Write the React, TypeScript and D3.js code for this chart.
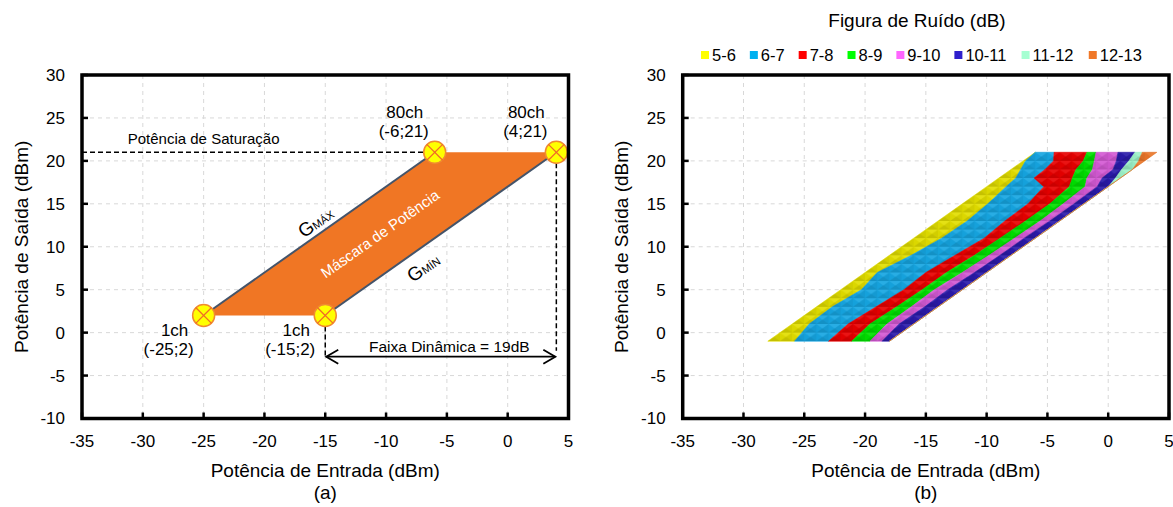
import React from 'react';
import * as d3 from 'd3';

// ---------- shared axes ----------
const xTicks = [-35, -30, -25, -20, -15, -10, -5, 0, 5];
const yTicks = [-10, -5, 0, 5, 10, 15, 20, 25, 30];
const xTitle = 'Potência de Entrada (dBm)';
const yTitle = 'Potência de Saída (dBm)';
const panelLetters = ['(a)', '(b)'];

// ---------- panel (a): power mask ----------
const maskInput = [-25, -6, 4, -15];
const maskOutput = [2, 21, 21, 2];
const pointNames = ['1ch', '80ch', '80ch', '1ch'];
const pointCoords = ['(-25;2)', '(-6;21)', '(4;21)', '(-15;2)'];
const saturationLevel = 21;
const saturationLabel = 'Potência de Saturação';
const dynamicFrom = -15;
const dynamicTo = 4;
const dynamicLevel = -2.8;
const dynamicLabel = 'Faixa Dinâmica = 19dB';
const maskLabel = 'Máscara de Potência';

// ---------- panel (b): noise figure map ----------
const outputLevels = [-1, 1, 3, 5, 7, 9, 11, 13, 15, 17, 18, 19, 20, 21];
const edgeLeft = [-28, -26, -24, -22, -20, -18, -16, -14, -12, -10, -9, -8, -7, -6];
const bound5_6 = [-25.8, -24.6, -22.7, -20.3, -19.0, -16.2, -13.7, -11.6, -9.9, -8.4, -7.6, -7.2, -6.8, -6.0];
const bound6_7 = [-23.0, -21.4, -19.1, -16.8, -15.0, -12.6, -10.2, -8.5, -6.6, -5.3, -6.1, -5.2, -4.5, -4.45];
const bound7_8 = [-21.1, -19.6, -17.4, -15.3, -13.3, -11.0, -8.9, -6.8, -4.8, -3.2, -2.95, -2.65, -2.05, -1.75];
const bound8_9 = [-19.6, -18.2, -16.2, -14.3, -12.0, -9.8, -7.7, -5.6, -3.7, -1.9, -1.75, -1.3, -1.14, -1.0];
const bound9_10 = [-18.6, -17.2, -15.1, -13.2, -11.0, -8.9, -6.9, -4.8, -2.8, -0.9, -0.5, 0.4, 0.67, 0.8];
const bound10_11 = [-18, -16, -14, -12, -10, -8, -6, -4, -2, 0, 0.6, 1.1, 1.7, 2.2];
const bound11_12 = [-18, -16, -14, -12, -10, -8, -6, -4, -2, 0, 1.0, 2.0, 2.5, 2.8];
const edgeRight = [-18, -16, -14, -12, -10, -8, -6, -4, -2, 0, 1, 2, 3, 4];
const nfClasses = ['5-6', '6-7', '7-8', '8-9', '9-10', '10-11', '11-12', '12-13'];
const nfLegendColors = ['#FFFF00', '#00B0F0', '#FF0000', '#00FF00', '#FF66FF', '#2E1FCC', '#A6FFD2', '#F07828'];
const nfFillColors = ['#E2DE00', '#16A6E2', '#E80000', '#00E000', '#D45AD4', '#2A1AAA', '#9CF2C8', '#EA7628'];
const legendTitle = 'Figura de Ruído (dB)';

const FONT = 'Liberation Sans, Arial, Helvetica, sans-serif';
const W = 1173;
const H = 507;
const yScale = d3.scaleLinear().domain([-10, 30]).range([418.5, 75]);
const xScaleA = d3.scaleLinear().domain([-35, 5]).range([82, 568.5]);
const xScaleB = d3.scaleLinear().domain([-35, 5]).range([682.7, 1169]);

function Frame({ x, letter, children }: { x: d3.ScaleLinear<number, number>; letter: string; children?: React.ReactNode }) {
  const [x0, x1] = x.range();
  const [y0, y1] = [yScale(30), yScale(-10)];
  const cx = (x0 + x1) / 2;
  return (
    <g>
      {xTicks.slice(1, -1).map((t) => (
        <line key={'gx' + t} x1={x(t)} x2={x(t)} y1={y0} y2={y1} stroke="#D8D8D8" strokeWidth={1} strokeDasharray="4 4" />
      ))}
      {yTicks.slice(1, -1).map((t) => (
        <line key={'gy' + t} x1={x0} x2={x1} y1={yScale(t)} y2={yScale(t)} stroke="#D8D8D8" strokeWidth={1} strokeDasharray="4 4" />
      ))}
      {children}
      <rect x={x0} y={y0} width={x1 - x0} height={y1 - y0} fill="none" stroke="#000" strokeWidth={3.5} />
      {xTicks.map((t) => (
        <line key={'tx' + t} x1={x(t)} x2={x(t)} y1={y1} y2={y1 - 6} stroke="#000" strokeWidth={2.5} />
      ))}
      {yTicks.map((t) => (
        <line key={'ty' + t} x1={x0} x2={x0 + 6} y1={yScale(t)} y2={yScale(t)} stroke="#000" strokeWidth={2.5} />
      ))}
      {xTicks.map((t) => (
        <text key={'lx' + t} x={x(t)} y={447} textAnchor="middle" fontSize={17} fontFamily={FONT} fill="#000">{t}</text>
      ))}
      {yTicks.map((t) => (
        <text key={'ly' + t} x={x0 - 17} y={yScale(t)} dy="0.35em" textAnchor="end" fontSize={17} fontFamily={FONT} fill="#000">{t}</text>
      ))}
      <text x={cx} y={477} textAnchor="middle" fontSize={19} fontFamily={FONT} fill="#000">{xTitle}</text>
      <text x={cx} y={499} textAnchor="middle" fontSize={19} fontFamily={FONT} fill="#000">{letter}</text>
      <text transform={`translate(${x0 - 61},${(y0 + y1) / 2}) rotate(-90)`} dy="0.35em" textAnchor="middle" fontSize={19} fontFamily={FONT} fill="#000">{yTitle}</text>
    </g>
  );
}

function Marker({ cx, cy }: { cx: number; cy: number }) {
  const r = 11;
  const k = r * 0.72;
  return (
    <g>
      <circle cx={cx} cy={cy} r={r} fill="#FFFF00" stroke="#F08A30" strokeWidth={1.5} />
      <line x1={cx - k} y1={cy - k} x2={cx + k} y2={cy + k} stroke="#F06A28" strokeWidth={1.3} />
      <line x1={cx - k} y1={cy + k} x2={cx + k} y2={cy - k} stroke="#F06A28" strokeWidth={1.3} />
    </g>
  );
}

function PanelA() {
  const x = xScaleA;
  const pts = maskInput.map((v, i) => [x(v), yScale(maskOutput[i])] as [number, number]);
  const poly = d3.line()(pts.concat([pts[0]])) as string;
  const angle = (-Math.atan2(yScale(0) - yScale(1), x(1) - x(0)) * 180) / Math.PI;
  const centerX = x(d3.mean(maskInput) as number);
  const centerY = yScale(d3.mean(maskOutput) as number);
  const gmaxP = [x(-15.5), yScale(11.5)];
  const gminP = [x(-8.5), yScale(8.5)];
  const yArrow = yScale(dynamicLevel);
  const xa0 = x(dynamicFrom);
  const xa1 = x(dynamicTo);
  return (
    <Frame x={x} letter={panelLetters[0]}>
      <path d={poly} fill="#F07624" stroke="none" />
      <line x1={pts[0][0]} y1={pts[0][1]} x2={pts[1][0]} y2={pts[1][1]} stroke="#44546A" strokeWidth={2} />
      <line x1={pts[3][0]} y1={pts[3][1]} x2={pts[2][0]} y2={pts[2][1]} stroke="#44546A" strokeWidth={2} />
      <line x1={x(-35)} x2={x(maskInput[1])} y1={yScale(saturationLevel)} y2={yScale(saturationLevel)} stroke="#000" strokeWidth={1.5} strokeDasharray="5 3" />
      <text x={x(-25)} y={yScale(saturationLevel) - 8} textAnchor="middle" fontSize={15} fontFamily={FONT} fill="#000">{saturationLabel}</text>
      <line x1={xa0} x2={xa0} y1={yScale(2) + 11} y2={yArrow} stroke="#000" strokeWidth={1.5} strokeDasharray="5 3" />
      <line x1={xa1} x2={xa1} y1={yScale(21) + 11} y2={yArrow - 6} stroke="#000" strokeWidth={1.5} strokeDasharray="5 3" />
      <line x1={xa0 + 1} x2={xa1 - 1} y1={yArrow} y2={yArrow} stroke="#000" strokeWidth={1.8} />
      <path d={`M${xa0 + 13},${yArrow - 7} L${xa0 + 1},${yArrow} L${xa0 + 13},${yArrow + 7}`} fill="none" stroke="#000" strokeWidth={1.8} />
      <path d={`M${xa1 - 13},${yArrow - 7} L${xa1 - 1},${yArrow} L${xa1 - 13},${yArrow + 7}`} fill="none" stroke="#000" strokeWidth={1.8} />
      <text x={x(-4.8)} y={yArrow - 5} textAnchor="middle" fontSize={15.5} fontFamily={FONT} fill="#000">{dynamicLabel}</text>
      <text transform={`translate(${centerX},${centerY}) rotate(${angle})`} dy="0.35em" textAnchor="middle" fontSize={15} fontFamily={FONT} fill="#FFFFFF">{maskLabel}</text>
      <text transform={`translate(${gmaxP[0]},${gmaxP[1]}) rotate(${angle})`} x={4} y={-5} textAnchor="middle" fontFamily={FONT} fill="#000">
        <tspan fontSize={19}>G</tspan><tspan fontSize={11}>MÁX</tspan>
      </text>
      <text transform={`translate(${gminP[0]},${gminP[1]}) rotate(${angle})`} x={11} y={24} textAnchor="middle" fontFamily={FONT} fill="#000">
        <tspan fontSize={19}>G</tspan><tspan fontSize={11}>MÍN</tspan>
      </text>
      {pts.map((p, i) => {
        const top = maskOutput[i] === saturationLevel;
        return (
          <g key={'pl' + i}>
            <text x={p[0] - (top ? 30 : 29)} y={p[1] + (top ? -34 : 21)} textAnchor="middle" fontSize={17} fontFamily={FONT} fill="#000">{pointNames[i]}</text>
            <text x={p[0] - (top ? 31 : 35)} y={p[1] + (top ? -15 : 40)} textAnchor="middle" fontSize={17} fontFamily={FONT} fill="#000">{pointCoords[i]}</text>
          </g>
        );
      })}
      {pts.map((p, i) => (
        <Marker key={'m' + i} cx={p[0]} cy={p[1]} />
      ))}
    </Frame>
  );
}

function PanelB() {
  const x = xScaleB;
  const bounds = [edgeLeft, bound5_6, bound6_7, bound7_8, bound8_9, bound9_10, bound10_11, bound11_12, edgeRight];
  const line = d3.line();
  const bands = nfClasses.map((c, i) => {
    const l = bounds[i];
    const r = bounds[i + 1];
    const pts: [number, number][] = outputLevels.map((lv, k) => [x(l[k]), yScale(lv)]);
    const back: [number, number][] = outputLevels.map((lv, k) => [x(r[k]), yScale(lv)]).reverse() as [number, number][];
    return line(pts.concat(back).concat([pts[0]])) as string;
  });
  const outline = line(
    (outputLevels.map((lv, k) => [x(edgeLeft[k]), yScale(lv)]) as [number, number][])
      .concat(outputLevels.map((lv, k) => [x(edgeRight[k]), yScale(lv)]).reverse() as [number, number][])
  ) as string;
  const cw = x(1) - x(0);
  const ch = yScale(0) - yScale(1);
  const fs = 16.5;
  const charW = (s: string) => s.split('').reduce((a, c) => a + (c === '-' ? 0.333 : 0.556), 0) * fs;
  let cursor = 701;
  const items = nfClasses.map((c, i) => {
    const sx = cursor;
    cursor += 8 + 3 + charW(c) + 14;
    return { c, sx, color: nfLegendColors[i] };
  });
  return (
    <Frame x={x} letter={panelLetters[1]}>
      <defs>
        <pattern id="facet" patternUnits="userSpaceOnUse" x={x(-35)} y={yScale(30)} width={cw} height={ch}>
          <polygon points={`0,0 ${cw},0 ${cw / 2},${ch / 2}`} fill="#FFFFFF" fillOpacity={0.08} />
          <polygon points={`${cw},0 ${cw},${ch} ${cw / 2},${ch / 2}`} fill="#000" fillOpacity={0.07} />
          <polygon points={`0,${ch} ${cw},${ch} ${cw / 2},${ch / 2}`} fill="#000" fillOpacity={0.13} />
          <polygon points={`0,0 0,${ch} ${cw / 2},${ch / 2}`} fill="#000" fillOpacity={0.03} />
        </pattern>
      </defs>
      {bands.map((d, i) => (
        <path key={'band' + i} d={d} fill={nfFillColors[i]} stroke={nfFillColors[i]} strokeWidth={0.6} strokeLinejoin="round" />
      ))}
      <path d={outline + 'Z'} fill="url(#facet)" stroke="none" />
      <text x={917} y={27} textAnchor="middle" fontSize={19} fontFamily={FONT} fill="#000">{legendTitle}</text>
      {items.map((it) => (
        <g key={'lg' + it.c}>
          <rect x={it.sx} y={51} width={8} height={8} fill={it.color} />
          <text x={it.sx + 11} y={61} fontSize={fs} fontFamily={FONT} fill="#000">{it.c}</text>
        </g>
      ))}
    </Frame>
  );
}

export default function App() {
  return (
    <svg width={W} height={H} viewBox={`0 0 ${W} ${H}`} style={{ position: 'absolute', left: 0, top: 0, display: 'block', background: '#fff' }}>
      <rect x={0} y={0} width={W} height={H} fill="#fff" />
      <PanelA />
      <PanelB />
    </svg>
  );
}
